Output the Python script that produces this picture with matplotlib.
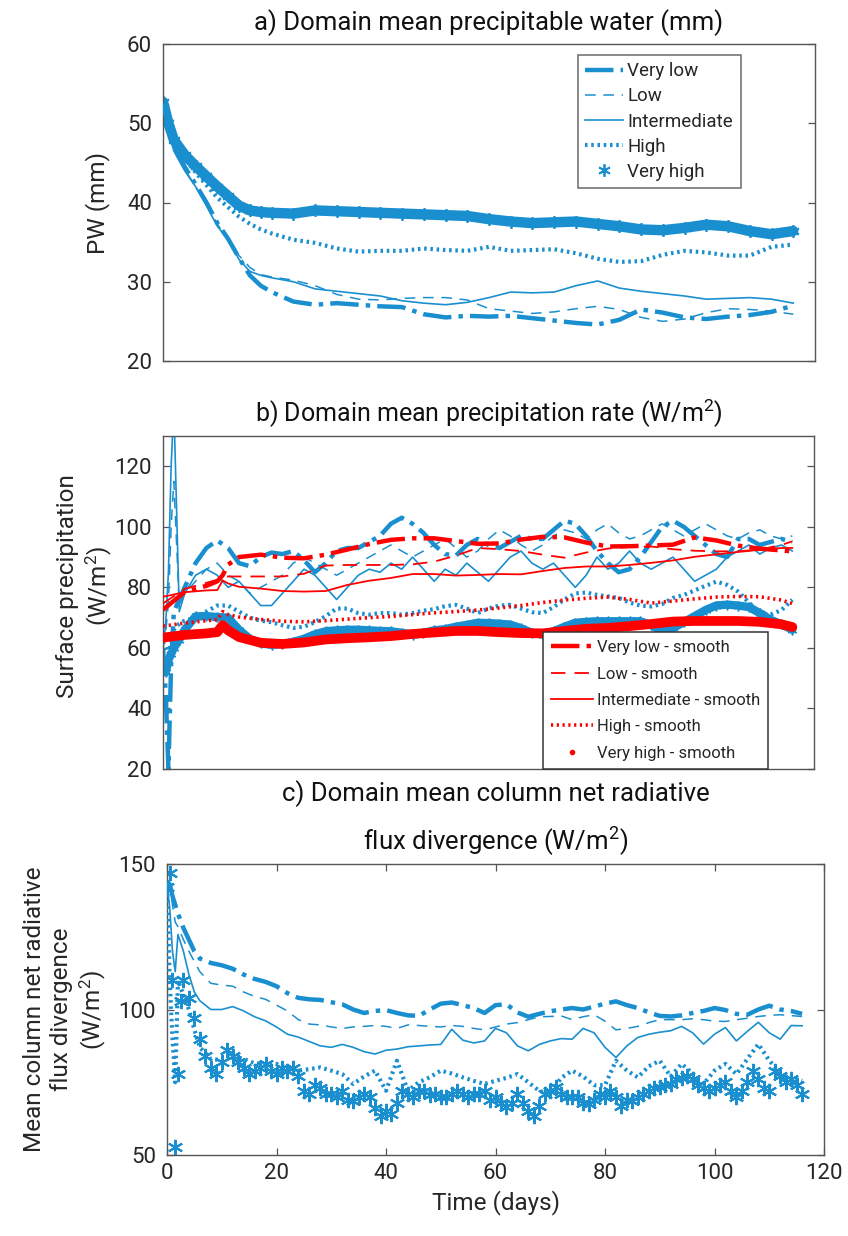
import numpy as np
import matplotlib
matplotlib.use("Agg")
import matplotlib.pyplot as plt

plt.rcParams['font.family'] = ['Roboto', 'DejaVu Sans']
plt.rcParams['mathtext.fontset'] = 'custom'
plt.rcParams['mathtext.rm'] = 'Roboto'
plt.rcParams['mathtext.it'] = 'Roboto:italic'

BLUE = '#1a8fcf'
RED = '#ff0000'
TXT = '#262626'
ASTERISK = (6, 2, 0)

# ---------------- a) precipitable water (mm) ----------------
days_a = [0, 1, 2, 4, 6, 8, 10, 12, 14, 16, 18, 20] + list(range(24, 117, 4))
pw_very_low = [52.5, 49.5, 47.0, 44.5, 42.3, 40.0, 37.4, 35.4, 33.0, 30.8, 29.5, 28.7,
               27.5, 27.1, 27.3, 27.1, 26.9, 26.8, 25.9, 25.5, 25.7, 25.6,
               25.7, 25.4, 25.1, 24.8, 24.6, 25.2, 26.5, 26.1, 25.5, 25.3,
               25.6, 25.8, 26.2, 27.0]
pw_low = [52.5, 49.2, 46.8, 44.2, 42.0, 39.8, 37.3, 35.2, 33.3, 31.8, 30.9, 30.6,
          30.2, 29.5, 28.4, 27.8, 27.7, 27.9, 28.0, 28.0, 27.7, 26.6,
          26.3, 26.0, 26.2, 26.6, 26.9, 26.5, 25.5, 25.0, 25.3, 26.1,
          26.6, 26.5, 26.3, 25.9]
pw_int = [52.5, 49.0, 46.5, 44.0, 42.0, 39.6, 37.0, 35.3, 32.8, 31.3, 30.8, 30.5,
          30.0, 29.1, 28.8, 28.5, 28.2, 27.6, 27.3, 27.1, 27.4, 28.0,
          28.7, 28.6, 28.7, 29.5, 30.1, 29.2, 28.8, 28.5, 28.2, 27.8,
          27.9, 28.0, 27.8, 27.3]
pw_high = [52.5, 50.0, 47.6, 45.5, 43.8, 42.2, 40.6, 39.4, 38.2, 37.3, 36.6, 36.1,
           35.3, 34.9, 34.2, 33.8, 33.9, 33.9, 34.2, 34.0, 33.9, 34.4,
           33.9, 34.0, 34.1, 33.6, 32.9, 32.5, 32.6, 33.4, 33.9, 33.7,
           33.3, 33.3, 34.4, 34.7]
pw_very_high = [52.7, 50.0, 47.9, 46.0, 44.6, 43.3, 42.0, 40.8, 39.6, 39.0, 38.8, 38.7,
                38.6, 39.0, 38.9, 38.8, 38.7, 38.6, 38.5, 38.4, 38.3, 37.9,
                37.6, 37.4, 37.5, 37.6, 37.3, 37.0, 36.6, 36.5, 36.8, 37.2,
                37.0, 36.4, 36.0, 36.4]

# ---------------- b) precipitation rate (W/m2) ----------------
days_b = [0, 0.5, 1, 1.5, 2, 3, 4] + list(range(6, 117, 2))
pr_very_low = [60, 45, 20, 55, 72, 76, 80,
               88, 93, 95.5, 93, 88, 87, 90, 91.5, 91, 92,
               89, 85, 88, 92, 93, 93, 95, 97, 101, 103,
               101, 98, 94, 91, 90.5, 94, 96, 94, 93, 95,
               97, 96, 96, 99, 102, 101, 97, 92, 88, 85,
               86, 90, 95, 100, 102, 100, 97, 94, 91, 90,
               96, 96, 94, 95, 96, 95]
pr_low = [60, 65, 75, 100, 115, 74, 78,
          82, 86, 88, 84, 82, 78, 80, 82, 84, 88,
          90, 88, 86, 84, 86, 88, 90, 92, 94, 92,
          90, 92, 94, 96, 93, 90, 92, 96, 99, 97,
          94, 92, 94, 97, 99, 98, 96, 99, 101, 98,
          96, 97, 99, 101, 99, 97, 99, 101, 99, 97,
          96, 98, 99, 97, 96, 97]
pr_int = [60, 68, 85, 120, 140, 72, 78,
          84, 86, 84, 80, 82, 78, 74, 74, 78, 82,
          86, 84, 80, 76, 80, 84, 86, 85, 88, 86,
          90, 86, 82, 86, 84, 88, 85, 82, 86, 90,
          92, 88, 86, 88, 84, 80, 84, 90, 86, 88,
          92, 88, 86, 88, 90, 86, 82, 84, 86, 90,
          92, 94, 91, 93, 94, 92]
pr_high = [62, 60, 58, 62, 66, 68, 69,
           70, 72, 74, 74, 72, 70, 69, 68.5, 67.5, 66.6,
           67, 68.5, 70.5, 73, 73, 71.5, 71, 71.5, 71.5, 71,
           71.5, 72.3, 72.8, 73.8, 74.2, 73, 71.5, 73, 74, 74.2,
           73, 71.8, 71.5, 73.5, 76, 78, 78.3, 77.5, 77, 76.5,
           75, 74, 73.7, 74.5, 76.5, 77.5, 79, 80.5, 81.9, 80.8,
           78.6, 75, 71.5, 71, 72.5, 75.9]
pr_very_high = [54, 52, 56, 58, 60, 62.7, 66,
                70.4, 70.5, 70.2, 70, 66, 63, 61.5, 61, 61.3, 62,
                63, 64.5, 65.5, 65.8, 66, 66, 65.8, 65.6, 65.5, 65,
                64.4, 65, 65.8, 66.2, 67, 67.6, 68.3, 68.2, 68, 67.7,
                66.5, 65, 64.4, 65.5, 67, 68.3, 68.6, 68.8, 68.8, 68.8,
                68.8, 68.8, 67.5, 65.5, 66.5, 68.5, 70.5, 72.5, 74, 74.3,
                74, 73.5, 71.5, 69.3, 67.8, 66]

# smoothed precipitation
days_sm = [0, 4, 8, 10, 11, 12, 14] + list(range(18, 115, 4)) + [116]
sm_very_low = [72.6, 78.5, 80.5, 82, 84, 87.5, 90,
               90.8, 89.8, 89.6, 90.8, 92.5, 94.3, 95.7, 96.2, 96.2, 95.3,
               94.4, 94.5, 95.8, 96.7, 96.5, 94.8, 93.5, 93.6, 93.8, 94.1,
               96.5, 95.5, 93.8, 92.8, 92.2, 91.9]
sm_low = [74.7, 79.5, 81.5, 82.5, 83.5, 83.6, 83.6,
          83.6, 83.6, 84.5, 87.2, 87.4, 87.4, 87.4, 87.6, 88.5, 90.5,
          93, 92.6, 92, 90.8, 89.8, 91.5, 92.8, 93.3, 93.5, 92.6,
          92.1, 91.9, 91.9, 92.5, 94, 95.2]
sm_int = [76.9, 78.4, 79, 79.1, 82.3, 81.3, 80.2,
          79.6, 78.8, 78.6, 78.8, 80.8, 82.2, 83.1, 84.4, 84.4, 83.9,
          84.1, 84.4, 84.3, 85.4, 86.4, 86.9, 86.9, 87.4, 88.1, 88.9,
          90.1, 90.9, 91.7, 92.4, 93.0, 93.0]
sm_high = [67.2, 68.2, 69, 69.3, 72, 71, 70.2,
           69.4, 68.8, 68.6, 69, 69.5, 70, 70.4, 71, 71.6, 72,
           72.5, 73.2, 74, 75, 75.8, 76.4, 76.8, 76, 74.8, 75.5,
           76.2, 76.8, 77, 76.9, 75.8, 74.7]
sm_very_high = [63.4, 64.3, 64.8, 65.2, 67.5, 65.8, 63.6,
                61.7, 61.3, 61.8, 62.8, 63.2, 63.5, 63.9, 64.6, 65.1, 65.6,
                65.6, 65.2, 64.9, 64.8, 65.6, 66.3, 66.6, 67.2, 67.9, 68.7,
                68.9, 68.9, 68.9, 68.6, 67.8, 66.9]

# ---------------- c) column net radiative flux divergence ----------------
days_c = [0, 0.5, 1, 1.5, 2, 3, 4, 5, 6] + list(range(8, 117, 2))
rad_very_low = [144, 143, 139, 136, 133, 128, 124, 120, 117.5,
                116, 115.2, 114, 112, 110.5, 109.5, 108, 105.6, 104, 103.5,
                103.3, 102.5, 101.8, 100, 98.8, 99.5, 99.8, 98.8, 98, 97.8,
                100, 102, 102.4, 101.5, 100.5, 98.8, 101.5, 101.8, 99, 97.5,
                98.5, 99.4, 100, 100.5, 100, 101, 102, 102.8, 101.5, 100.5,
                99, 97.8, 97.6, 98, 98.8, 99.5, 100.5, 99.8, 98.5, 98.2,
                100, 101.3, 100, 99.5, 98.5]
rad_low = [144, 142, 136, 130, 128.5, 124, 120, 116.5, 113,
           109, 108.4, 108, 106, 104.5, 103.5, 101.5, 99.5, 96.5, 95,
           94.7, 94, 93.5, 94, 94.2, 94.5, 94.2, 93.5, 94.7, 94.5,
           94.2, 94, 94.5, 94.2, 93.5, 93, 94, 95, 95.5, 96.5,
           97.5, 97.6, 97.8, 96.5, 97.5, 98.2, 96, 93, 93.5, 94.2,
           95.5, 96.5, 96.5, 96.5, 96.8, 96.5, 96, 95.9, 96.5, 97,
           97.6, 98, 98.2, 97.9, 97.6]
rad_int = [143, 135, 120, 113, 125.8, 120, 112, 106, 103,
           100, 100, 101, 99.5, 97.5, 96.1, 94, 91.5, 90.5, 89,
           87.5, 87, 88, 87, 85.5, 84.7, 86, 86.4, 87.2, 87.5,
           87.8, 88, 93.2, 89.5, 88.5, 89.2, 93.5, 92, 87.5, 85.8,
           88, 89.2, 90, 89.8, 93.5, 92, 87, 83.5, 87.5, 90.4,
           91.5, 92.2, 92.7, 94.2, 92, 88.1, 91.5, 93.8, 89.2, 92.5,
           95.6, 92, 89.8, 94.5, 94.4]
rad_high = [144, 109.5, 90, 75, 110, 105, 100, 93, 87,
            83, 82.6, 84, 83, 81.5, 81.3, 81.3, 80, 79, 79.5,
            80.1, 79, 77.8, 74.4, 77, 79, 72.1, 82.4, 72.1, 75,
            76.7, 79, 78, 76.7, 75.5, 74.4, 75.5, 76.5, 77.8, 75,
            72, 71, 76.5, 79, 77, 74, 74, 82.4, 79, 76.7,
            80.5, 82.4, 77, 81.3, 78, 74.4, 79, 81.3, 77.8, 83,
            88.1, 82.5, 78, 76.5, 75.5]
days_c_vh = [0, 0.5, 1, 1.5, 2, 2.5] + list(range(3, 117))
rad_very_high = [142, 147, 110, 52.7, 78, 103,
                 110, 104, 97, 90, 84, 80, 78, 82, 86, 84,
                 82, 80, 78, 79, 80, 81.3, 79, 78, 80, 79,
                 80, 77, 72, 71, 74, 73, 71, 71, 70, 72,
                 69, 68.6, 70, 71, 70, 66, 63.4, 65, 64, 68,
                 72, 71, 70, 72, 72, 70.5, 71, 70, 69.8, 71,
                 72, 71, 70, 71, 70.9, 72, 69, 70, 68, 66.4,
                 68, 70.9, 68, 65, 63.4, 67, 70.9, 72, 73.2, 71,
                 70, 69.8, 70, 68, 67.5, 69, 71, 70, 72.1, 70,
                 67, 69, 68.6, 70, 71, 72, 73, 73.2, 74, 74.5,
                 76, 76.5, 77.1, 76, 74, 73, 72.1, 73, 74, 75,
                 72, 69.8, 72, 75, 78.9, 76, 73, 72.1, 78.9, 77,
                 75, 76, 74, 70.9]

W, H = 848, 1236
fig = plt.figure(figsize=(W / 100, H / 100), dpi=100)


def box(l, t, r, b):
    return [l / W, 1 - b / H, (r - l) / W, (b - t) / H]


def style(ax):
    for s in ax.spines.values():
        s.set_color('#555555')
        s.set_linewidth(1.0)
    ax.tick_params(direction='in', length=5, width=0.9, color='#555555', pad=8,
                   labelsize=16, labelcolor=TXT, right=True, top=True)


def legend_text(leg):
    leg.get_frame().set_linewidth(1.1)
    for t in leg.get_texts():
        t.set_color(TXT)


ax1 = fig.add_axes(box(163, 44, 815, 361))
ax2 = fig.add_axes(box(163, 436, 814, 769))
ax3 = fig.add_axes(box(167, 864, 824, 1155))

# a)
ax1.plot(days_a, pw_very_high, color=BLUE, lw=7.5, solid_capstyle='round', zorder=2)
ax1.plot(days_a, pw_very_high, ls='none', marker=ASTERISK, ms=9, mew=1.3,
         color=BLUE, label='Very high', zorder=2)
ax1.plot(days_a, pw_very_low, color=BLUE, lw=3.2, ls='-.', label='Very low', zorder=3)
ax1.plot(days_a, pw_low, color=BLUE, lw=1.1, ls=(0, (7, 5)), label='Low', zorder=3)
ax1.plot(days_a, pw_int, color=BLUE, lw=1.2, ls='-', label='Intermediate', zorder=3)
ax1.plot(days_a, pw_high, color=BLUE, lw=3, ls=(0, (0.6, 0.9)), label='High', zorder=3)
ax1.set_xlim(0, 120)
ax1.set_ylim(20, 60)
ax1.set_yticks([20, 30, 40, 50, 60])
ax1.set_xticks([])
style(ax1)
ax1.set_ylabel('PW (mm)', fontsize=17.5, color=TXT)
ax1.yaxis.set_label_coords(-0.082, 0.5)
ax1.set_title('a) Domain mean precipitable water (mm)', fontsize=18.5, color='#111111', pad=10)
h, l = ax1.get_legend_handles_labels()
order = [l.index(k) for k in ['Very low', 'Low', 'Intermediate', 'High', 'Very high']]
leg = ax1.legend([h[i] for i in order], [l[i] for i in order], loc='upper right',
                 bbox_to_anchor=(0.886, 0.966), borderaxespad=0, fontsize=13.5,
                 frameon=True, fancybox=False, edgecolor='#444444', handlelength=2.0,
                 handletextpad=0.25, borderpad=0.4, labelspacing=0.38)
legend_text(leg)

# b)
ax2.plot(days_b, pr_very_high, color=BLUE, lw=6, solid_capstyle='round', zorder=2)
ax2.plot(days_b, pr_very_high, ls='none', marker=ASTERISK, ms=7, mew=1.1, color=BLUE, zorder=2)
ax2.plot(days_b, pr_very_low, color=BLUE, lw=3.2, ls='-.', zorder=2)
ax2.plot(days_b, pr_low, color=BLUE, lw=1.1, ls=(0, (7, 5)), zorder=2)
ax2.plot(days_b, pr_int, color=BLUE, lw=1.2, ls='-', zorder=2)
ax2.plot(days_b, pr_high, color=BLUE, lw=3, ls=(0, (0.6, 0.9)), zorder=2)

ax2.plot(days_sm, sm_very_high, color=RED, lw=7, solid_capstyle='round', zorder=3)
ax2.plot(days_sm, sm_very_low, color=RED, lw=3.2, ls='-.', label='Very low - smooth', zorder=4)
ax2.plot(days_sm, sm_low, color=RED, lw=1.3, ls=(0, (8, 5)), label='Low - smooth', zorder=4)
ax2.plot(days_sm, sm_int, color=RED, lw=1.3, ls='-', label='Intermediate - smooth', zorder=4)
ax2.plot(days_sm, sm_high, color=RED, lw=2.6, ls=(0, (0.6, 1.0)), label='High - smooth', zorder=4)
ax2.plot(days_sm, sm_very_high, ls='none', marker='.', ms=6, color=RED,
         label='Very high - smooth', zorder=3)
ax2.set_xlim(0, 120)
ax2.set_ylim(20, 130)
ax2.set_yticks([20, 40, 60, 80, 100, 120])
ax2.set_xticks([])
style(ax2)
ax2.set_ylabel('Surface precipitation\n(W/m$^2$)', fontsize=17.5, color=TXT)
ax2.yaxis.set_label_coords(-0.076, 0.55)
ax2.set_title('b) Domain mean precipitation rate (W/m$^2$)', fontsize=18, color='#111111', pad=10)
leg2 = ax2.legend(loc='lower right', bbox_to_anchor=(0.93, 0.0), borderaxespad=0,
                  fontsize=12, frameon=True, fancybox=False, framealpha=1,
                  edgecolor='#333333', handlelength=2.5, handletextpad=0.25,
                  borderpad=0.5, labelspacing=0.68)
leg2.set_zorder(10)
legend_text(leg2)

# c)
ax3.plot(days_c_vh, rad_very_high, ls='none', marker=ASTERISK, ms=11, mew=1.5, color=BLUE, zorder=2)
ax3.plot(days_c, rad_very_low, color=BLUE, lw=3.2, ls='-.', zorder=3)
ax3.plot(days_c, rad_low, color=BLUE, lw=1.1, ls=(0, (7, 5)), zorder=3)
ax3.plot(days_c, rad_int, color=BLUE, lw=1.2, ls='-', zorder=3)
ax3.plot(days_c, rad_high, color=BLUE, lw=3, ls=(0, (0.6, 0.9)), zorder=3)
ax3.set_xlim(0, 120)
ax3.set_ylim(50, 150)
ax3.set_yticks([50, 100, 150])
ax3.set_xticks(np.arange(0, 121, 20))
style(ax3)
ax3.tick_params(axis='x', pad=6)
ax3.set_xlabel('Time (days)', fontsize=17.5, color=TXT, labelpad=4)
ax3.set_ylabel('Mean column net radiative\nflux divergence\n(W/m$^2$)', fontsize=17.5,
               color=TXT)
ax3.yaxis.set_label_coords(-0.09, 0.5)
ax3.set_title('c) Domain mean column net radiative\nflux divergence (W/m$^2$)',
              fontsize=18.5, color='#111111', pad=10, linespacing=1.7)

fig.savefig('out.png', dpi=100)
